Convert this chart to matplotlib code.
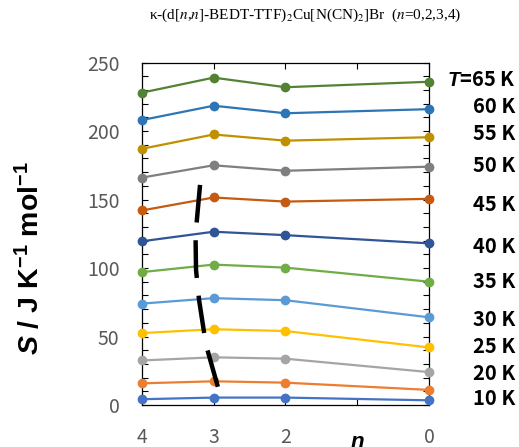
import numpy as np
import matplotlib
matplotlib.use("Agg")
import matplotlib.pyplot as plt
from matplotlib.ticker import MultipleLocator

# mathtext fonts for the bold sans labels
plt.rcParams['mathtext.fontset'] = 'custom'
plt.rcParams['mathtext.rm'] = 'Liberation Sans:bold'
plt.rcParams['mathtext.it'] = 'Liberation Sans:italic:bold'
plt.rcParams['mathtext.bf'] = 'Liberation Sans:bold'

# Data
n_values = [4, 3, 2, 0]
temps = ['65 K', '60 K', '55 K', '50 K', '45 K', '40 K', '35 K', '30 K', '25 K', '20 K', '15 K', '10 K']
S_65 = [228, 239, 232, 236]
S_60 = [208, 218.5, 213, 216]
S_55 = [187, 197.5, 193, 195.5]
S_50 = [166, 175, 171, 174]
S_45 = [142, 151.5, 148.5, 150.5]
S_40 = [119.5, 126.5, 124, 118]
S_35 = [97, 102.5, 100.3, 90]
S_30 = [74, 78, 76.5, 64]
S_25 = [52.5, 55.3, 54, 42]
S_20 = [32.5, 34.8, 33.8, 24]
S_15 = [15.8, 17.3, 16.3, 11]
S_10 = [4.2, 5.4, 5.4, 3.4]
series = [S_65, S_60, S_55, S_50, S_45, S_40, S_35, S_30, S_25, S_20, S_15, S_10]
colors = ['#548235', '#2E75B6', '#BF9000', '#7F7F7F', '#C55A11', '#2F5597',
          '#70AD47', '#5B9BD5', '#FFC000', '#A5A5A5', '#ED7D31', '#4472C4']

# right-hand temperature labels (the 15 K line is not labelled)
label_texts = ['$T$=65 K', '60 K', '55 K', '50 K', '45 K', '40 K', '35 K', '30 K', '25 K', '20 K', '10 K']
label_S = [237.4, 218, 198, 174.5, 146.7, 115.6, 90, 62.7, 42.5, 23, 4.4]

# hand-drawn boundary (dashed curve)
boundary_n = [3.188, 3.251, 3.244, 3.202, 3.105, 2.920]
boundary_S = [160.7, 124.2, 98.6, 76.7, 43.8, 9.5]

fig = plt.figure(figsize=(5.19, 4.47), dpi=100)
ax = fig.add_axes([0.273, 0.094, 0.554, 0.766])

for s, c in zip(series, colors):
    ax.plot(n_values, s, color=c, lw=1.6, marker='o', ms=6, clip_on=False, zorder=3)

ax.plot(boundary_n, boundary_S, color='black', lw=3.2, ls=(0, (8.5, 4)),
        solid_capstyle='butt', dash_capstyle='butt', zorder=5)

ax.set_xlim(4, 0)
ax.set_ylim(0, 250)
ax.set_xticks([4, 3, 2, 1, 0])
ax.set_xticklabels(['4', '3', '2', '', '0'])
ax.yaxis.set_major_locator(MultipleLocator(50))
ax.yaxis.set_minor_locator(MultipleLocator(10))
ax.tick_params(axis='both', which='both', direction='in', length=4, width=0.8,
               top=True, right=True, colors='black', labelcolor='#595959',
               labelsize=14, pad=16)
for lab in ax.get_xticklabels() + ax.get_yticklabels():
    lab.set_family('Noto Sans CJK JP')
for sp in ax.spines.values():
    sp.set_color('black')
    sp.set_linewidth(0.9)

ax.set_ylabel('$S$ / J K$^{-1}$ mol$^{-1}$', fontsize=20.5, fontweight='bold',
              family='Liberation Sans', math_fontfamily='custom')
ax.yaxis.set_label_coords(-0.335, 0.43)
ax.set_xlabel('$n$', fontsize=16, math_fontfamily='custom')
ax.xaxis.set_label_coords(0.75, -0.078)
ax.xaxis.label.set_va('top')

for txt, yv in zip(label_texts, label_S):
    ax.text(1.3, yv, txt, transform=ax.get_yaxis_transform(), ha='right', va='center',
            fontsize=14.5, fontweight='bold', family=['Noto Sans CJK JP'],
            math_fontfamily='custom')

fig.text(0.588, 0.966, r'κ-(d[$n$,$n$]-BEDT-TTF)$_2$Cu[N(CN)$_2$]Br  ($n$=0,2,3,4)',
         ha='center', va='center', fontsize=11, family='Liberation Serif',
         math_fontfamily='stix')

fig.savefig('out.png', dpi=100)
